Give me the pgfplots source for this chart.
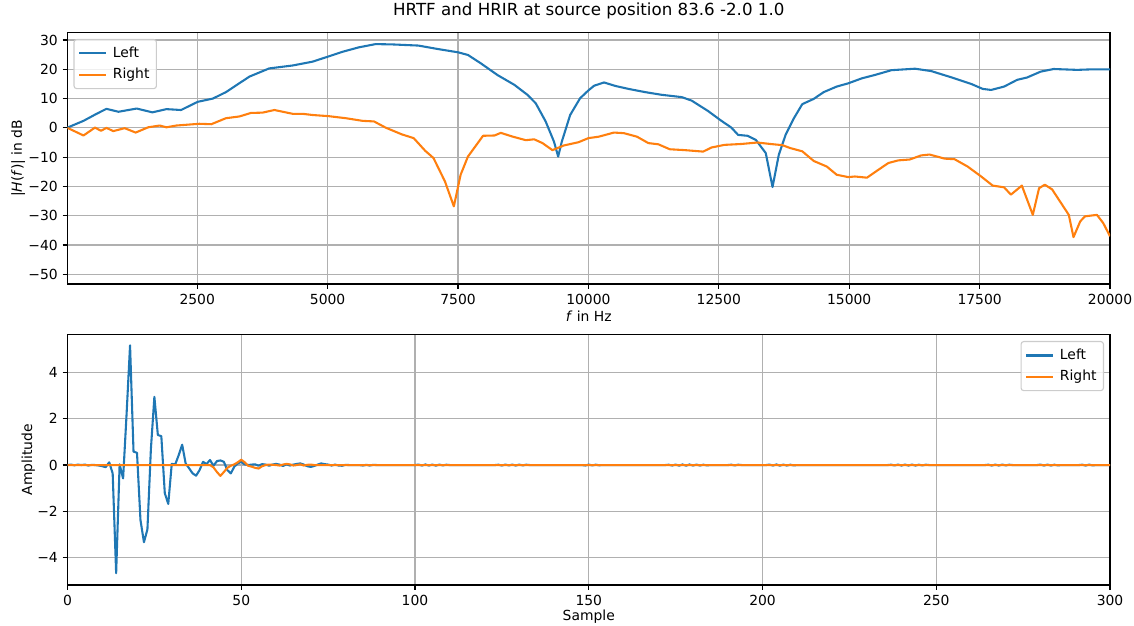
\documentclass[border=0pt]{standalone}
\usepackage{fontspec}
\setmainfont{DejaVu Sans}
\usepackage{pgfplots}
\pgfplotsset{compat=1.18}

\definecolor{mplblue}{HTML}{1F77B4}
\definecolor{mplorange}{HTML}{FF7F0E}
\definecolor{mplgrid}{HTML}{B0B0B0}
\definecolor{mpllegend}{HTML}{CCCCCC}

\pgfplotsset{
  mplstyle/.style={
    scale only axis,
    axis line style={black, line width=0.8pt},
    tick align=outside,
    major tick length=3.5pt,
    every tick/.style={black, line width=0.8pt},
    xtick pos=left, ytick pos=left,
    grid=major,
    major grid style={mplgrid, line width=0.8pt},
    scaled ticks=false,
    tick label style={font=\fontsize{10}{12}\selectfont},
    label style={font=\fontsize{10}{12}\selectfont},
    legend cell align=left,
    legend image code/.code={\draw[#1] (0pt,0pt) -- (19pt,0pt);},
    legend style={
      draw=mpllegend, rounded corners=2pt, fill=white, fill opacity=0.8,
      text opacity=1, line width=0.8pt,
      font=\fontsize{10}{12}\selectfont,
      inner xsep=3pt, inner ysep=3.5pt,
      row sep=2.2pt,
      /tikz/every odd column/.append style={column sep=2.5pt},
    },
  },
  seriesL/.style={mplblue, line width=1.5pt, line join=round},
  seriesR/.style={mplorange, line width=1.5pt, line join=round},
}

\begin{document}
\begin{tikzpicture}[x=1pt,y=1pt]
\useasboundingbox (0,0) rectangle (816.48,450);

% Magnitude response of both ears
\begin{axis}[
  mplstyle,
  at={(48.6pt,245.52pt)}, anchor=south west,
  width=750.6pt, height=180.94pt,
  xmin=13, xmax=20000,
  ymin=-53.3, ymax=32.5,
  xtick={2500,5000,7500,10000,12500,15000,17500,20000},
  xticklabels={2500,5000,7500,10000,12500,15000,17500,20000},
  ytick={-50,-40,-30,-20,-10,0,10,20,30},
  yticklabels={−50,−40,−30,−20,−10,0,10,20,30},
  title={HRTF and HRIR at source position 83.6 -2.0 1.0},
  title style={font=\large, at={(axis description cs:0.5,1)}, anchor=center, yshift=9.9pt},
  xlabel={\textit{f} in Hz},
  xlabel style={at={(axis description cs:0.5,-0.1265)}, anchor=center},
  ylabel={|\textit{H}(\textit{f})| in dB},
  ylabel style={at={(axis description cs:-0.0473,0.5)}, anchor=center},
  legend style={at={(axis description cs:0,1)}, anchor=north west, xshift=4.3pt, yshift=-4.5pt},
]
\addplot[seriesL] coordinates {
(13,0.1) (320,2.4) (570,4.8) (760,6.5) (990,5.5) (1340,6.6) (1640,5.3) (1910,6.4)
(2190,6.1) (2510,8.9) (2800,10.0) (3050,12.2) (3500,17.5) (3880,20.3) (4330,21.3)
(4710,22.6) (5020,24.4) (5290,26.0) (5600,27.5) (5920,28.6) (6230,28.5) (6740,28.1)
(7120,26.9) (7500,25.8) (7690,24.9) (7940,22.0) (8260,18.0) (8580,14.7) (8830,11.3)
(8990,8.4) (9180,2.2) (9340,-4.7) (9420,-9.8) (9490,-4.7) (9650,4.4) (9840,10.1)
(10000,12.8) (10110,14.4) (10300,15.5) (10520,14.3) (10770,13.3) (11090,12.2)
(11400,11.3) (11790,10.5) (11980,9.3) (12290,5.8) (12550,2.4) (12740,0.1)
(12870,-2.4) (13050,-2.7) (13210,-4.1) (13400,-8.6) (13530,-20.2) (13650,-9.2)
(13780,-2.4) (13940,3.3) (14100,8.1) (14320,9.9) (14510,12.2) (14760,14.1)
(14980,15.2) (15240,16.9) (15500,18.1) (15810,19.7) (16260,20.2) (16570,19.4)
(16950,17.3) (17340,15.0) (17560,13.3) (17720,12.95) (17970,14.1) (18220,16.4)
(18410,17.2) (18670,19.2) (18920,20.1) (19370,19.8) (19680,20.0) (20000,20.0)
};
\addlegendentry{Left}
\addplot[seriesR] coordinates {
(13,0.0) (320,-2.6) (540,0.1) (655,-1.0) (760,0.0) (890,-1.1) (1110,-0.1) (1320,-1.6)
(1560,0.2) (1780,0.8) (1910,0.2) (2100,0.8) (2540,1.4) (2770,1.25) (3050,3.3)
(3310,3.9) (3530,5.1) (3750,5.2) (3980,6.1) (4330,4.8) (4520,4.8) (4710,4.4)
(5020,4.0) (5350,3.3) (5670,2.4) (5890,2.2) (6110,0.1) (6420,-2.2) (6650,-3.5)
(6870,-7.8) (7030,-10.3) (7250,-18.3) (7420,-26.8) (7550,-16.0) (7690,-9.8)
(7980,-2.7) (8200,-2.6) (8320,-1.7) (8550,-3.0) (8800,-4.2) (8960,-3.9) (9120,-5.2)
(9310,-7.6) (9530,-6.0) (9810,-4.9) (10000,-3.5) (10200,-3.0) (10490,-1.6)
(10680,-1.8) (10930,-3.0) (11150,-5.2) (11340,-5.6) (11560,-7.3) (11850,-7.6)
(12200,-8.1) (12360,-6.7) (12610,-5.8) (12930,-5.5) (13240,-5.0) (13490,-5.5)
(13720,-5.9) (13870,-6.9) (14100,-8.0) (14320,-11.3) (14570,-13.2) (14760,-16.0)
(14980,-16.8) (15110,-16.6) (15340,-17.0) (15560,-14.3) (15750,-12.0) (15940,-11.1)
(16160,-10.8) (16380,-9.4) (16540,-9.1) (16830,-10.5) (17020,-10.7) (17270,-13.2)
(17530,-16.6) (17750,-19.7) (17970,-20.3) (18100,-22.8) (18310,-19.7) (18520,-29.7)
(18640,-20.6) (18750,-19.4) (18890,-21.0) (19210,-29.7) (19300,-37.3) (19430,-31.9)
(19520,-30.2) (19750,-29.7) (19870,-32.5) (20000,-37.0)
};
\addlegendentry{Right}
\end{axis}

% Impulse responses of both ears
\begin{axis}[
  mplstyle,
  at={(48.6pt,28.8pt)}, anchor=south west,
  width=750.6pt, height=180.2pt,
  xmin=0, xmax=300,
  ymin=-5.19, ymax=5.64,
  xtick={0,50,100,150,200,250,300},
  xticklabels={0,50,100,150,200,250,300},
  ytick={-4,-2,0,2,4},
  yticklabels={−4,−2,0,2,4},
  xlabel={Sample},
  xlabel style={at={(axis description cs:0.5,-0.1275)}, anchor=center},
  ylabel={Amplitude},
  ylabel style={at={(axis description cs:-0.0377,0.5)}, anchor=center},
  legend style={at={(axis description cs:1,1)}, anchor=north east, xshift=-4.3pt, yshift=-4.5pt},
]
\addplot[seriesL] coordinates {
(0,0) (1,0.02) (2,-0.01) (3,0.02) (4,0) (5,0.02) (6,-0.02) (7,0.01) (8,0)
(9,-0.02) (10,-0.05) (11,-0.09) (12,0.12) (13,-0.36) (14,-4.68) (15,0.03)
(16,-0.58) (17,2.2) (18,5.18) (19,0.58) (20,0.53) (21,-2.38) (22,-3.34)
(23,-2.78) (24,0.7) (25,2.95) (26,1.3) (27,1.25) (28,-1.22) (29,-1.68)
(30,0.05) (31,0.03) (32,0.43) (33,0.88) (34,0.07) (35,-0.14) (36,-0.36)
(37,-0.46) (38,-0.22) (39,0.14) (40,0.04) (41,0.22) (42,-0.03) (43,0.17)
(44,0.2) (45,0.14) (46,-0.22) (47,-0.36) (48,-0.07) (49,0.07) (50,0.14)
(51,0.03) (52,0) (53,0.02) (54,0.03) (55,-0.03) (56,0.04) (57,0.02) (58,-0.03)
(59,0.02) (60,0.05) (61,0.02) (62,-0.04) (63,0.03) (64,-0.02) (65,0.02)
(66,0.05) (67,0.07) (68,0.02) (69,-0.05) (70,-0.08) (71,-0.04) (72,0.02)
(73,0.07) (74,0.04) (75,0.02) (76,-0.02) (77,0.02) (78,-0.02) (79,-0.03)
(80,0.01) (81,0) (84,0) (85,-0.02) (86,0.01) (87,-0.02) (88,0.01) (89,0)
(100,0) (101,0.02) (102,-0.02) (103,0.025) (104,-0.02) (105,0.02) (106,-0.025)
(107,0.02) (108,-0.015) (109,0.015) (110,0)
(123,0) (124,0.015) (125,-0.02) (126,0.02) (127,-0.015) (128,0.02) (129,-0.02)
(130,0.02) (131,-0.015) (132,0.015) (133,0)
(148,0) (149,-0.02) (150,0.02) (151,-0.015) (152,0.015) (153,-0.01) (154,0)
(172,0) (173,0.015) (174,-0.02) (175,0.02) (176,-0.025) (177,0.025) (178,-0.025)
(179,0.025) (180,-0.02) (181,0.02) (182,-0.02) (183,0.015) (184,-0.015) (185,0)
(190,0) (191,0.015) (192,-0.015) (193,0.015) (194,0)
(201,0) (202,0.02) (203,-0.02) (204,0.025) (205,-0.025) (206,0.02) (207,-0.02)
(208,0.015) (209,-0.015) (210,0)
(236,0) (237,0.015) (238,-0.015) (239,0.02) (240,-0.02) (241,0.02) (242,-0.02)
(243,0.02) (244,-0.02) (245,0.015) (246,-0.015) (247,0.015) (248,0)
(264,0) (265,0.015) (266,-0.02) (267,0.02) (268,-0.02) (269,0.02) (270,-0.015)
(271,0.015) (272,0)
(279,0) (280,0.02) (281,-0.02) (282,0.02) (283,-0.02) (284,0.015) (285,-0.015)
(286,0)
(291,0) (292,0.015) (293,-0.02) (294,0.02) (295,-0.015) (296,0) (300,0)
};
\addlegendentry{Left}
\addplot[seriesR] coordinates {
(0,0) (41,0) (42,-0.1) (43,-0.3) (44,-0.47) (45,-0.3) (46,-0.12) (47,-0.03)
(48,0.03) (49,0.12) (50,0.23) (51,0.12) (52,-0.03) (53,-0.07) (54,-0.12)
(55,-0.15) (56,-0.05) (57,0) (58,0.02) (59,0.01) (60,0) (61,-0.02) (62,0.02)
(63,0.05) (64,0.03) (65,-0.02) (66,0) (67,0.03) (68,-0.02) (69,0.01) (70,0.02)
(71,0) (300,0)
};
\addlegendentry{Right}
\end{axis}
\end{tikzpicture}
\end{document}
